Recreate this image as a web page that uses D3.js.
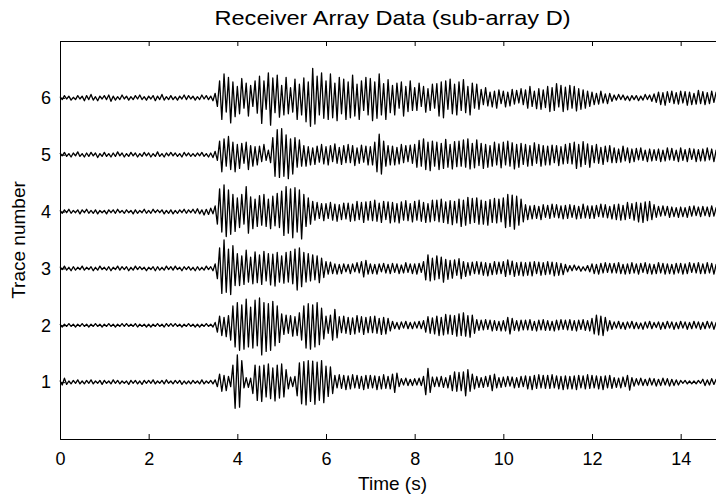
<!DOCTYPE html>
<html>
<head>
<meta charset="utf-8">
<script src="https://cdn.jsdelivr.net/npm/d3@7"></script>
<style>
body { margin: 0; background: #fff; }
text { font-family: "Liberation Sans", Arial, sans-serif; fill: #000; }
</style>
</head>
<body>
<div id="chart"></div>
<script>

//******************************************************************************
//**  Data
//******************************************************************************
/**
 *   Six receiver traces, sampled every 0.05 s from 0 to 15 s. Values are in
 *   hundredths of a trace unit (offset from each trace's baseline).
 *
 ******************************************************************************/

var title = "Receiver Array Data (sub-array D)";
var xLabel = "Time (s)";
var yLabel = "Trace number";
var xTicks = [0, 2, 4, 6, 8, 10, 12, 14];
var yTicks = [1, 2, 3, 4, 5, 6];
var sampleStep = 0.05;

var trace1 = [
3,-5,7,-4,2,-3,3,-2,4,-3, 2,-3,3,-2,4,-3,2,-2,3,-4, 3,-2,2,-3,4,-2,3,-3,2,-2,
2,-4,3,-2,3,-3,2,-4,3,-2, 3,-2,4,-3,2,-2,3,-3,4,-2, 2,-3,3,-2,3,-4,2,-3,2,-3,
3,-2,2,-3,4,-3,2,-2,3,-3, 4,-8,14,-16,12,-15,10,-8,30,-46, 48,-44,38,-10,8,-9,7,-20,30,-32,
28,-34,30,-26,32,-29,25,-33,30,-28, 32,-26,22,-12,9,-8,10,-24,34,-38, 36,-40,38,-34,37,-39,35,-32,38,-36,
28,-25,27,-20,12,-10,13,-11,12,-13, 11,-12,13,-10,12,-11,10,-13,12,-11, 12,-10,11,-13,10,-12,13,-11,10,-12,
14,-18,16,-8,6,-5,7,-6,5,-6, 6,-5,7,-6,10,-22,24,-18,9,-8, 9,-8,10,-9,8,-10,12,-15,18,-16,
17,-15,18,-24,22,-16,14,-12,10,-9, 8,-9,10,-8,12,-15,14,-10,8,-9, 9,-8,10,-7,9,-10,8,-9,10,-8,
11,-12,10,-13,12,-11,13,-10,12,-11, 12,-11,13,-10,11,-12,10,-13,11,-12, 10,-12,11,-13,12,-10,11,-12,13,-11,
12,-10,11,-12,10,-13,11,-10,12,-11, 8,-9,7,-10,9,-8,12,-14,8,-7, 6,-5,7,-6,5,-6,7,-5,6,-7,
5,-6,7,-5,6,-7,5,-6,4,-5, 3,-2,3,-3,2,-3,2,-3,3,-2, 5,-6,4,-5,6,-4,5,-6,4,-5, 0
];

var trace2 = [
2,-3,2,-2,3,-2,2,-3,2,-2, 3,-2,2,-3,2,-2,3,-2,2,-3, 2,-2,3,-2,2,-3,2,-2,3,-2,
3,-2,2,-2,3,-3,2,-2,2,-3, 2,-3,2,-2,3,-2,2,-3,3,-2, 3,-2,3,-2,2,-3,2,-2,3,-2,
2,-3,2,-3,2,-2,3,-2,2,-3, 5,-12,16,-18,14,-20,17,-26,34,-38, 40,-44,36,-42,46,-38,32,-40,44,-36,
48,-52,40,-46,38,-44,42,-36,34,-30, 20,-16,18,-14,17,-19,15,-18,22,-26, 34,-40,38,-42,36,-38,40,-34,30,-24,
16,-14,18,-26,28,-22,15,-13,16,-14, 14,-16,13,-15,17,-12,15,-16,14,-13, 15,-13,16,-14,12,-16,14,-15,12,-10,
7,-6,5,-7,6,-5,7,-6,5,-6, 6,-5,7,-6,8,-12,15,-14,13,-15, 16,-18,14,-17,19,-15,18,-16,17,-19,
20,-18,22,-19,17,-21,18,-14,10,-9, 9,-8,10,-7,9,-10,8,-9,7,-10, 8,-10,14,-15,12,-9,8,-10,9,-8,
9,-8,10,-9,7,-10,9,-8,10,-9, 8,-9,7,-10,9,-8,10,-7,9,-8, 10,-9,8,-10,9,-7,10,-9,8,-10,
12,-15,18,-17,16,-18,14,-10,8,-7, 6,-5,7,-6,5,-7,6,-5,7,-6, 5,-6,4,-7,6,-5,7,-6,5,-4,
6,-7,5,-6,7,-5,6,-7,5,-6, 7,-5,6,-7,5,-6,7,-5,6,-7, 5,-6,7,-5,6,-7,5,-6,7,-5, 0
];

var trace3 = [
3,-2,4,-3,2,-4,3,-3,2,-2, 4,-3,2,-2,3,-4,2,-3,4,-2, 2,-3,3,-4,2,-2,4,-3,3,-2,
3,-4,2,-3,4,-2,3,-2,2,-4, 2,-2,3,-4,3,-3,2,-3,4,-2, 3,-3,4,-2,2,-4,3,-2,3,-3,
2,-4,3,-3,2,-3,4,-2,3,-4, 8,-18,36,-44,50,-42,34,-46,40,-30, 26,-30,22,-28,32,-24,20,-27,29,-25,
24,-28,30,-22,26,-29,25,-31,28,-24, 22,-26,28,-24,30,-27,34,-38,36,-32, 28,-24,26,-22,24,-20,22,-25,18,-16,
12,-10,11,-9,8,-10,7,-9,8,-6, 7,-9,8,-6,10,-8,12,-15,14,-10, 8,-9,7,-10,8,-6,9,-8,7,-9,
9,-7,8,-9,6,-8,10,-7,8,-9, 8,-10,9,-7,12,-20,24,-22,18,-20, 22,-18,20,-24,16,-19,14,-17,15,-12,
17,-18,12,-14,10,-12,11,-9,12,-10, 11,-12,10,-13,9,-11,12,-10,11,-9, 12,-14,15,-11,13,-14,10,-12,11,-13,
10,-12,11,-13,12,-9,11,-12,10,-11, 12,-10,11,-13,10,-12,9,-11,7,-6, 5,-4,6,-3,4,-5,3,-4,5,-6,
8,-9,7,-10,9,-8,10,-7,9,-8, 9,-8,10,-9,7,-10,8,-9,10,-8, 8,-10,9,-7,10,-9,8,-10,7,-9,
10,-8,9,-10,8,-9,7,-10,9,-8, 9,-10,8,-9,10,-7,9,-8,10,-9, 8,-9,10,-8,9,-10,7,-9,8,-10, 0
];

var trace4 = [
2,-3,3,-2,4,-3,2,-2,3,-4, 3,-2,4,-3,2,-3,3,-4,2,-2, 2,-4,3,-2,3,-3,4,-2,2,-3,
3,-2,2,-4,3,-3,2,-2,4,-3, 2,-3,4,-2,3,-2,3,-4,2,-3, 3,-4,2,-3,3,-2,4,-3,3,-2,
4,-3,5,-4,3,-6,4,-5,6,-4, 10,-22,40,-36,47,-44,38,-40,30,-35, 24,-28,30,-22,44,-38,26,-30,22,-26,
28,-24,30,-26,22,-30,27,-25,32,-28, 36,-42,44,-38,40,-46,42,-36,38,-48, 30,-26,24,-22,18,-15,16,-12,14,-16,
14,-12,16,-15,13,-17,12,-14,15,-13, 15,-17,13,-16,18,-14,16,-19,17,-15, 18,-16,20,-17,15,-19,18,-14,17,-20,
16,-18,14,-20,17,-15,19,-16,14,-18, 18,-15,20,-17,16,-19,14,-18,20,-16, 20,-18,22,-19,17,-21,19,-23,18,-20,
22,-26,20,-24,25,-21,23,-19,24,-22, 20,-22,18,-24,21,-19,23,-20,22,-18, 24,-28,30,-26,29,-31,27,-24,22,-18,
12,-14,10,-13,11,-12,9,-14,12,-10, 11,-12,13,-10,12,-11,10,-13,11,-12, 12,-10,11,-13,9,-12,13,-11,10,-12,
10,-12,11,-9,13,-10,12,-11,9,-13, 12,-14,13,-15,11,-14,16,-12,14,-15, 16,-18,15,-19,17,-16,18,-14,12,-10,
9,-8,10,-7,9,-10,8,-9,7,-10, 8,-9,7,-10,9,-8,10,-7,8,-9, 9,-7,8,-9,10,-8,7,-9,8,-10, 0
];

var trace5 = [
3,-2,4,-3,2,-4,3,-2,5,-3, 2,-4,3,-3,4,-2,3,-5,2,-3, 4,-3,2,-4,3,-3,5,-2,3,-4,
2,-3,4,-2,3,-4,2,-3,4,-2, 3,-4,2,-3,5,-3,2,-4,3,-2, 4,-2,3,-3,2,-4,4,-2,3,-3,
2,-3,3,-2,4,-3,2,-4,3,-5, 6,-10,24,-30,28,-20,32,-26,22,-30, 18,-24,20,-15,22,-26,16,-20,14,-18,
15,-12,18,-10,8,-14,30,-38,44,-40, 46,-38,35,-42,28,-34,30,-22,26,-20, 16,-20,14,-18,12,-17,15,-13,18,-16,
14,-18,16,-12,19,-15,13,-17,16,-14, 18,-14,16,-19,12,-15,17,-13,15,-18, 14,-18,22,-30,36,-34,24,-20,16,-18,
15,-18,13,-16,18,-14,16,-12,17,-15, 18,-22,25,-20,28,-26,22,-28,24,-20, 22,-26,20,-24,27,-22,18,-25,23,-21,
24,-20,26,-22,28,-25,20,-23,26,-19, 20,-24,18,-22,16,-20,22,-18,19,-23, 22,-18,24,-20,21,-25,18,-22,20,-17,
18,-20,16,-19,21,-15,18,-20,16,-18, 15,-18,17,-14,16,-19,14,-16,18,-15, 20,-16,22,-24,18,-21,23,-17,19,-22,
16,-14,18,-15,13,-17,15,-12,16,-14, 12,-14,10,-13,15,-11,12,-14,10,-12, 11,-9,12,-10,8,-12,10,-11,9,-10,
10,-12,8,-11,12,-9,11,-10,8,-12, 12,-10,9,-12,11,-8,10,-12,9,-11, 10,-11,12,-9,10,-12,8,-10,11,-9, 0
];

var trace6 = [
2,-3,4,-2,3,-4,1,-3,4,-2, 3,-5,4,-3,6,-4,2,-5,3,-2, 4,-3,5,-6,3,-4,2,-3,5,-2,
3,-4,2,-3,4,-2,5,-3,2,-4, 3,-2,4,-5,3,-3,6,-4,2,-3, 4,-3,2,-4,3,-2,5,-3,4,-2,
3,-4,2,-3,5,-2,4,-3,3,-5, 8,-15,30,-38,42,-25,36,-44,28,-33, 20,-28,34,-18,26,-32,22,-15,30,-27,
38,-45,30,-20,44,-48,35,-26,40,-34, 22,-30,36,-28,18,-25,33,-38,24,-30, 35,-42,28,-50,52,-46,38,-30,44,-36,
30,-38,42,-35,26,-40,36,-28,33,-38, 28,-35,40,-32,24,-38,30,-22,36,-30, 34,-40,28,-36,42,-30,25,-38,32,-26,
22,-30,26,-18,28,-32,20,-24,30,-22, 18,-22,26,-15,20,-25,16,-22,24,-18, 25,-32,28,-35,30,-20,33,-28,24,-30,
28,-22,32,-26,20,-30,26,-18,24,-20, 15,-12,18,-14,10,-16,12,-18,14,-10, 12,-16,10,-14,15,-11,13,-9,16,-12,
14,-18,20,-15,12,-19,16,-20,14,-17, 20,-24,18,-22,25,-16,22,-24,19,-21, 22,-18,20,-23,16,-20,14,-18,12,-15,
10,-12,8,-11,12,-9,7,-10,8,-6, 5,-4,6,-3,5,-4,3,-5,4,-3, 4,-5,3,-4,6,-3,5,-6,7,-8,
10,-12,9,-13,11,-8,12,-10,9,-11, 12,-9,11,-13,10,-12,8,-11,13,-10, 11,-12,9,-10,12,-8,10,-11,9,-12, 0
];

var traces = [trace1, trace2, trace3, trace4, trace5, trace6];


//******************************************************************************
//**  Chart
//******************************************************************************

var width = 716, height = 501;
var margin = {left: 60, top: 41, right: -9, bottom: 62};
var plotW = width - margin.left - margin.right;
var plotH = height - margin.top - margin.bottom;

var svg = d3.select("#chart").append("svg")
    .attr("width", width)
    .attr("height", height);

var x = d3.scaleLinear().domain([0, 15]).range([margin.left, margin.left + plotW]);
var y = d3.scaleLinear().domain([0, 7]).range([margin.top + plotH, margin.top]);


  //**************************************************************************
  //** Traces
  //**************************************************************************
    var line = d3.line()
        .x(function(d, i){ return x(i * sampleStep); })
        .y(function(d){ return y(d.base + d.v / 100); });

    traces.forEach(function(trace, n){
        var pts = trace.map(function(v){ return {base: n + 1, v: v}; });
        svg.append("path")
            .attr("d", line(pts))
            .attr("fill", "none")
            .attr("stroke", "#000")
            .attr("stroke-width", 1.3)
            .attr("stroke-linejoin", "round");
    });


  //**************************************************************************
  //** Axes
  //**************************************************************************
    var tickLen = 5;

    svg.append("g")
        .attr("transform", "translate(0," + (margin.top + plotH) + ")")
        .call(d3.axisBottom(x).tickValues(xTicks).tickSize(-tickLen).tickPadding(13)
            .tickFormat(d3.format("d")));

    svg.append("g")
        .attr("transform", "translate(0," + margin.top + ")")
        .call(d3.axisTop(x).tickValues(xTicks).tickSize(-tickLen).tickFormat(""));

    svg.append("g")
        .attr("transform", "translate(" + margin.left + ",0)")
        .call(d3.axisLeft(y).tickValues(yTicks).tickSize(-tickLen).tickPadding(9)
            .tickFormat(d3.format("d")));

    svg.selectAll(".domain").attr("stroke", "#000").attr("stroke-width", 1);
    svg.selectAll(".tick line").attr("stroke", "#000");
    svg.selectAll(".tick text")
        .style("font-family", "'Liberation Sans', Arial, sans-serif")
        .style("font-size", "18px")
        .attr("fill", "#000");


  //**************************************************************************
  //** Labels
  //**************************************************************************
    var cx = margin.left + plotW / 2;

    svg.append("text")
        .attr("x", cx)
        .attr("y", 25)
        .attr("text-anchor", "middle")
        .attr("textLength", 356)
        .attr("lengthAdjust", "spacingAndGlyphs")
        .style("font-size", "21px")
        .text(title);

    svg.append("text")
        .attr("x", cx)
        .attr("y", 490)
        .attr("text-anchor", "middle")
        .style("font-size", "19px")
        .text(xLabel);

    svg.append("text")
        .attr("transform", "translate(25," + (margin.top + plotH / 2) + ") rotate(-90)")
        .attr("text-anchor", "middle")
        .style("font-size", "19px")
        .text(yLabel);

</script>
</body>
</html>
